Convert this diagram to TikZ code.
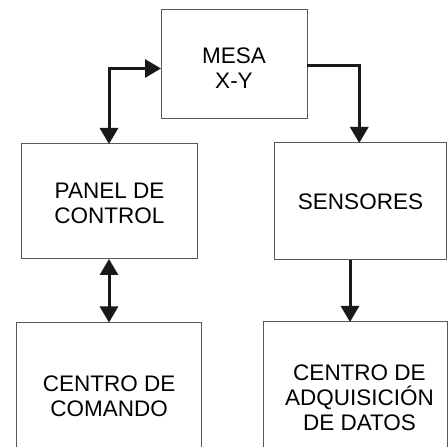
\documentclass[tikz,border=0pt]{standalone}
\usepackage{fontspec}
\setmainfont{Liberation Sans}
\usetikzlibrary{arrows.meta}
\tikzset{
  block/.style={draw=black!65, line width=1pt, rectangle,
                inner sep=0pt, outer sep=0pt},
  lbl/.style={align=center, inner sep=0pt,
              font=\fontsize{22.5}{25}\selectfont},
  arrowhead/.style={-{Triangle[width=18pt,length=16pt]}},
  twoheads/.style={{Triangle[width=18pt,length=16pt]}-{Triangle[width=18pt,length=16pt]}},
  link/.style={draw=black!90, line width=3pt},
}
\begin{document}
\begin{tikzpicture}[x=1pt,y=1pt]
% page is 448 x 447; y runs upwards from the bottom edge
\useasboundingbox (0,0) rectangle (448,447);
\fill[white] (0,0) rectangle (448,447);

% blocks (the two lower ones run off the bottom edge)
\node[block, minimum width=146pt, minimum height=109pt] (mesa) at (234,382.5) {};
\node[block, minimum width=176pt, minimum height=115pt] (panel) at (109,245.5) {};
\node[block, minimum width=172.5pt, minimum height=117pt] (sens) at (360.25,245.5) {};
\node[block, minimum width=184.5pt, minimum height=140pt] (cmd) at (109,54.5) {};
\node[block, minimum width=183.5pt, minimum height=140pt] (adq) at (355.25,55) {};

% block captions
\node[lbl] (mesa-t) at (234,378.5) {MESA\\X-Y};
\node[lbl] (panel-t) at (109.5,243.5) {PANEL DE\\CONTROL};
\node[lbl] (sens-t) at (360.5,245.3) {SENSORES};
\node[lbl] (cmd-t) at (109.2,51) {CENTRO DE\\COMANDO};
\node[lbl] (adq-t) at (359.5,49) {CENTRO DE\\ADQUISICIÓN\\DE DATOS};

% connectors
\draw[link, twoheads] (panel.north) |- ([yshift=-4pt]mesa.west);
\draw[link, arrowhead] ([yshift=-1.5pt]mesa.east) -| ([xshift=-1pt]sens.north);
\draw[link, twoheads] (panel.south) -- (cmd.north);
\draw[link, arrowhead] ([xshift=-10.25pt]sens.south) -- ([xshift=-10.25pt]sens.south |- adq.north);
\end{tikzpicture}
\end{document}
